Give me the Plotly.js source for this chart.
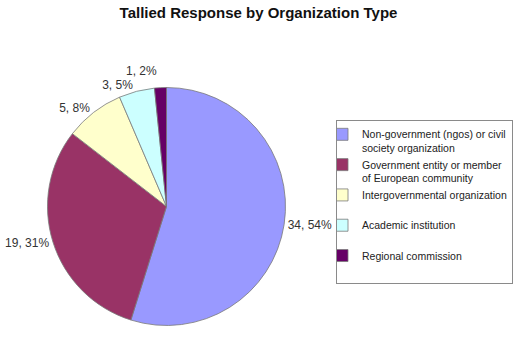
<!DOCTYPE html>
<html>
<head>
<meta charset="utf-8">
<script src="https://cdn.plot.ly/plotly-3.0.1.min.js"></script>
<style>html,body{margin:0;padding:0;background:#fff;}#chart{width:515px;height:357px;}#chart path.textline{display:none;}</style>
</head>
<body>
<div id="chart"></div>
<script>
const pad = "<br><span style='color:rgba(0,0,0,0)'>.</span>";
const categories = [
  "Non-government (ngos) or civil<br>society organization",
  "Government entity or member<br>of European community",
  "Intergovernmental organization" + pad,
  "Academic institution" + pad,
  "Regional commission" + pad
];
const counts = [34, 19, 5, 3, 1];
const percentLabels = ["54%", "31%", "8%", "5%", "2%"];
const colors = ["#9999FF", "#993366", "#FFFFCC", "#CCFFFF", "#660066"];

const labelText = counts.map((c, i) => c + ", " + percentLabels[i]);

const trace = {
  type: "pie",
  labels: categories,
  values: counts,
  text: labelText,
  textinfo: "text",
  textposition: "outside",
  sort: false,
  direction: "clockwise",
  rotation: 0,
  marker: { colors: colors, line: { color: "#7a7a7a", width: 0.8 } },
  outsidetextfont: { family: "Liberation Sans, Arial, sans-serif", size: 12, color: "#333" },
  hoverinfo: "label+value+percent",
  domain: { x: [47.5/515, 285.5/515], y: [1 - 325.5/357, 1 - 87.5/357] }
};

const layout = {
  width: 515,
  height: 357,
  margin: { l: 0, r: 0, t: 0, b: 0, autoexpand: false },
  paper_bgcolor: "#fff",
  title: {
    text: "<b>Tallied Response by Organization Type</b>",
    font: { family: "Liberation Sans, Arial, sans-serif", size: 15, color: "#111" },
    x: 0.502, xanchor: "center", y: 1 - 13/357, yanchor: "middle"
  },
  showlegend: true,
  legend: {
    x: 336/515, xanchor: "left",
    y: 1 - 120/357, yanchor: "top",
    bordercolor: "#8a8a8a", borderwidth: 1, bgcolor: "#fff",
    font: { family: "Liberation Sans, Arial, sans-serif", size: 10.5, color: "#222" },
    valign: "top",
    itemwidth: 30,
    indentation: -15
  }
};

Plotly.newPlot("chart", [trace], layout, { displayModeBar: false, staticPlot: true });
</script>
</body>
</html>
